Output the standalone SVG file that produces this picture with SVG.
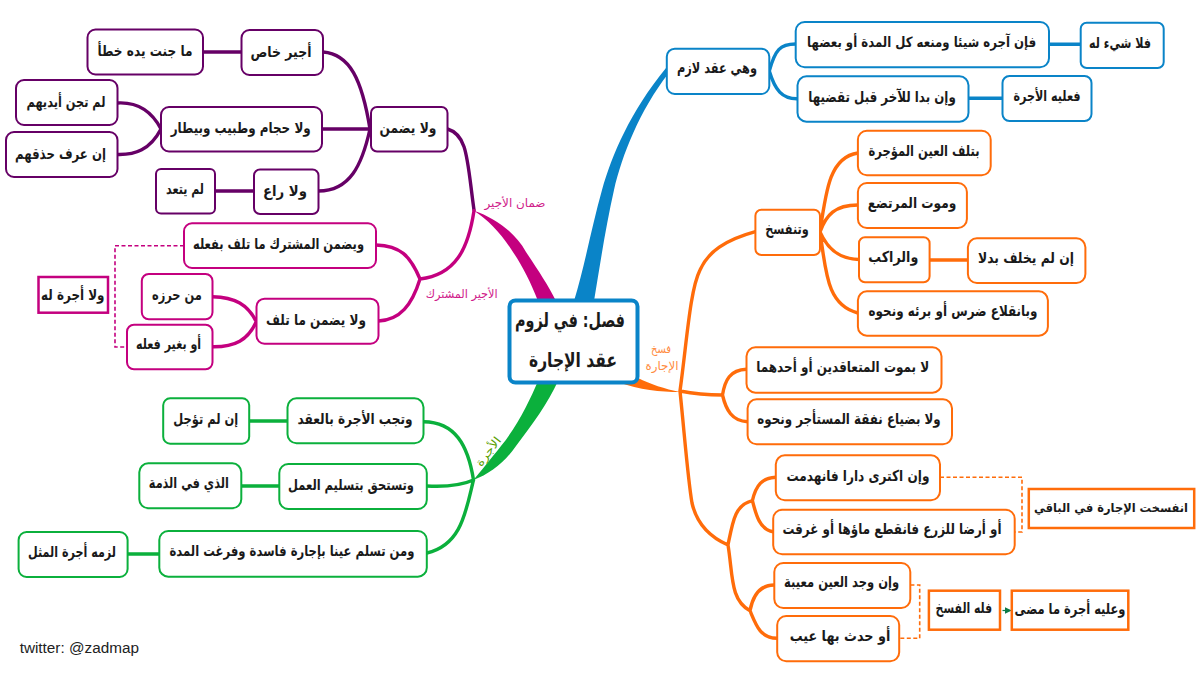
<svg xmlns="http://www.w3.org/2000/svg" width="1200" height="677" viewBox="0 0 1200 677">
<style>
text{font-family:"DejaVu Sans","Noto Sans",sans-serif;fill:#1a1a1a;text-anchor:middle;direction:rtl}
.n rect{fill:#fff;stroke-width:2}
.n text{font-size:15px;font-weight:bold}
.s rect{stroke-width:2.5}
.purple rect{stroke:#660066}.crimson rect{stroke:#c4007f}.green rect{stroke:#0bb03c}.blue rect{stroke:#0a84c8}.orange rect{stroke:#ff6c0a}
.l{fill:none;stroke-width:3.4;stroke-linecap:round}
.d{fill:none;stroke-width:1.6;stroke-dasharray:4 2.5}
.lp{stroke:#660066}.lc{stroke:#c4007f}.lg{stroke:#0bb03c}.lb{stroke:#0a84c8}.lo{stroke:#ff6c0a}
.lab{font-size:11.5px}
</style>
<defs><marker id="ah" markerWidth="6" markerHeight="6" refX="5" refY="3" orient="auto"><path d="M0,0L6,3L0,6Z" fill="#0c7a46"/></marker></defs>
<g id="connectors">
<path fill="#c4007f" d="M474,210.7C495,218 515,232 526,252C538,270 548,285 556,301L538,301C530,280 520,262 511,249C500,232 488,220 474,210.7Z"/>
<path fill="#0a84c8" d="M574,301C585,265 592,225 602,190C612,155 630,112 666,68L668,74C640,110 622,155 614,190C606,225 600,265 594,301Z"/>
<path fill="#0bb03c" d="M538,381C530,400 518,425 501,446C490,460 480,472 473.5,480C490,474 505,462 516,446C532,425 548,403 558,381Z"/>
<path fill="#ff6c0a" d="M618,382C640,390 660,392 680,392C665,389 650,384 638,378Z"/>
<path class="l lp" d="M447.5,129C468,135 467,160 474,210"/>
<path class="l lp" d="M323,52C350,54 362,80 370,129M322,129H371M318.5,191C350,191 362,165 370,129M203,52H241.5M215,191H254M117.5,103C135,102 150,108 161,129M117.5,154.5C135,155 150,150 161,129"/>
<path class="l lc" d="M474,210.7C468,250 455,275 420,279M420,279C410,255 400,246 376,245M420,279C412,305 400,320 378.4,321M212.5,296.7C235,297 248,305 256.3,321.7M212.5,346.7C235,347 248,340 256.3,321.7"/>
<path class="d lc" d="M184,245.7H115V347H127"/>
<path class="l lg" d="M473.5,480C468,445 455,422 423.6,421.7M426.8,486C445,487 460,486 473.5,480M426.8,553C462,545 466,510 473.5,480M249.3,421H287.5M241.4,486H279.3M127.5,554H159.3"/>
<path class="l lb" d="M769.3,71C775,50 780,44 795.7,44M769.3,71C775,90 782,99 797.5,98.7M1049,44.3H1080.7M968.6,98.3H1002.5"/>
<path class="l lo" d="M680,391C687,340 690,290 700,270C708,252 725,240 755.4,231.7M680,391C685,440 688,480 692,503C697,525 712,538 728,545M680,391C695,394 710,395 722.5,395M722.5,395C725,380 730,370 746.5,369.3M722.5,395C726,410 732,421 747.6,421.7M728,545C733,520 735,505 752.4,500.7M752.4,500.7C756,485 762,478 775.8,477.3M752.4,500.7C756,515 760,530 773.2,531.7M728,545C733,575 730,600 750,610.7M750,610.7C753,595 760,585 774.3,585M750,610.7C756,625 760,638 777.2,638.3M820,232C826,190 830,157 857.9,153M820,232C826,215 835,205 857.9,205M820,232C828,250 840,259 859,259.5M820,232C826,270 826,305 857.9,313M929.6,260H967.9"/>
<path class="d lo" d="M940,477.3H1022V532H1014.7M910.4,585H919.7V638.3H899.3"/>
<path d="M1002.5,610.5H1010.5" stroke="#0c7a46" stroke-width="1.2" fill="none" marker-end="url(#ah)"/>
</g>
<g id="center" class="n blue"><rect x="509.5" y="300.5" width="128" height="82" rx="6" style="stroke-width:4"/><text x="570" y="327" style="font-size:20px" textLength="110" lengthAdjust="spacingAndGlyphs">فصل: في لزوم</text><text x="573" y="367" style="font-size:20px" textLength="88" lengthAdjust="spacingAndGlyphs">عقد الإجارة</text></g>
<g id="n1" class="n purple"><rect x="87.5" y="29.5" width="115.5" height="45" rx="8"/><text x="145" y="56" textLength="95" lengthAdjust="spacingAndGlyphs">ما جنت يده خطأ</text></g>
<g id="n2" class="n purple"><rect x="241.5" y="30" width="81.5" height="45" rx="8"/><text x="281" y="57" textLength="61" lengthAdjust="spacingAndGlyphs">أجير خاص</text></g>
<g id="n3" class="n purple"><rect x="16" y="80" width="101.5" height="45" rx="8"/><text x="66" y="107" textLength="79" lengthAdjust="spacingAndGlyphs">لم تجن أيديهم</text></g>
<g id="n4" class="n purple"><rect x="6" y="132" width="111.5" height="45" rx="8"/><text x="60.5" y="159" textLength="91" lengthAdjust="spacingAndGlyphs">إن عرف حذقهم</text></g>
<g id="n5" class="n purple"><rect x="161" y="107" width="161" height="44.5" rx="8"/><text x="240.7" y="133" textLength="140" lengthAdjust="spacingAndGlyphs">ولا حجام وطبيب وبيطار</text></g>
<g id="n6" class="n purple"><rect x="371" y="107" width="76.5" height="44.5" rx="6"/><text x="408" y="133" textLength="57" lengthAdjust="spacingAndGlyphs">ولا يضمن</text></g>
<g id="n7" class="n purple"><rect x="156" y="169" width="59" height="44.5" rx="5"/><text x="185" y="194" textLength="38" lengthAdjust="spacingAndGlyphs">لم يتعد</text></g>
<g id="n8" class="n purple"><rect x="254" y="169.5" width="64.5" height="44.5" rx="6"/><text x="285" y="196" textLength="44" lengthAdjust="spacingAndGlyphs">ولا راع</text></g>
<g id="n9" class="n crimson"><rect x="184" y="223.3" width="192" height="44.7" rx="8"/><text x="278.5" y="249" textLength="171" lengthAdjust="spacingAndGlyphs">ويضمن المشترك ما تلف بفعله</text></g>
<g id="n10" class="n crimson s"><rect x="38.5" y="277" width="69.5" height="35.7"/><text x="72.8" y="300" textLength="63.5" lengthAdjust="spacingAndGlyphs">ولا أجرة له</text></g>
<g id="n11" class="n crimson"><rect x="141.8" y="274" width="70.7" height="45.3" rx="7"/><text x="176.9" y="300" textLength="50" lengthAdjust="spacingAndGlyphs">من حرزه</text></g>
<g id="n12" class="n crimson"><rect x="127" y="324.7" width="85.5" height="44.6" rx="7"/><text x="168.6" y="349" textLength="65" lengthAdjust="spacingAndGlyphs">أو بغير فعله</text></g>
<g id="n13" class="n crimson"><rect x="256.5" y="298.7" width="122" height="45" rx="8"/><text x="316" y="325" textLength="100" lengthAdjust="spacingAndGlyphs">ولا يضمن ما تلف</text></g>
<g id="n14" class="n green"><rect x="163.2" y="398.3" width="86" height="45.4" rx="7"/><text x="205.8" y="424" textLength="65" lengthAdjust="spacingAndGlyphs">إن لم تؤجل</text></g>
<g id="n15" class="n green"><rect x="287.5" y="398.3" width="136" height="45" rx="9"/><text x="355" y="424" textLength="115" lengthAdjust="spacingAndGlyphs">وتجب الأجرة بالعقد</text></g>
<g id="n16" class="n green"><rect x="139.3" y="463.3" width="102" height="45" rx="9"/><text x="188.8" y="488" textLength="80" lengthAdjust="spacingAndGlyphs">الذي في الذمة</text></g>
<g id="n17" class="n green"><rect x="279.3" y="464" width="147.5" height="45" rx="9"/><text x="351" y="490" textLength="126" lengthAdjust="spacingAndGlyphs">وتستحق بتسليم العمل</text></g>
<g id="n18" class="n green"><rect x="18.6" y="532" width="109" height="45" rx="8"/><text x="72" y="557" textLength="88" lengthAdjust="spacingAndGlyphs">لزمه أجرة المثل</text></g>
<g id="n19" class="n green"><rect x="159.3" y="531" width="267.5" height="45.7" rx="9"/><text x="292" y="556" textLength="245" lengthAdjust="spacingAndGlyphs">ومن تسلم عينا بإجارة فاسدة وفرغت المدة</text></g>
<g id="n20" class="n blue"><rect x="666.8" y="48.7" width="102.5" height="45.3" rx="8"/><text x="717" y="73" textLength="80" lengthAdjust="spacingAndGlyphs">وهي عقد لازم</text></g>
<g id="n21" class="n blue"><rect x="795.7" y="22" width="253.3" height="45.3" rx="9"/><text x="921.6" y="47" style="font-size:14px" textLength="229" lengthAdjust="spacingAndGlyphs">فإن آجره شيئا ومنعه كل المدة أو بعضها</text></g>
<g id="n22" class="n blue"><rect x="1080.7" y="22.7" width="83" height="45.3" rx="6"/><text x="1120" y="48" textLength="62" lengthAdjust="spacingAndGlyphs">فلا شيء له</text></g>
<g id="n23" class="n blue"><rect x="797.5" y="76.3" width="171" height="45.4" rx="9"/><text x="882" y="102" textLength="147.5" lengthAdjust="spacingAndGlyphs">وإن بدا للآخر قبل تقضيها</text></g>
<g id="n24" class="n blue"><rect x="1002.5" y="76" width="89" height="45" rx="7"/><text x="1047" y="101" textLength="67" lengthAdjust="spacingAndGlyphs">فعليه الأجرة</text></g>
<g id="n25" class="n orange"><rect x="755.4" y="209.7" width="64.6" height="45.3" rx="6"/><text x="787" y="234" textLength="43.6" lengthAdjust="spacingAndGlyphs">وتنفسخ</text></g>
<g id="n26" class="n orange"><rect x="857.9" y="130.7" width="132.8" height="44.6" rx="9"/><text x="924" y="156" textLength="111" lengthAdjust="spacingAndGlyphs">بتلف العين المؤجرة</text></g>
<g id="n27" class="n orange"><rect x="857.9" y="183" width="109" height="45" rx="9"/><text x="912" y="208" textLength="88.6" lengthAdjust="spacingAndGlyphs">وموت المرتضع</text></g>
<g id="n28" class="n orange"><rect x="859" y="237.3" width="70.6" height="45" rx="6"/><text x="893.3" y="262" textLength="50" lengthAdjust="spacingAndGlyphs">والراكب</text></g>
<g id="n29" class="n orange"><rect x="967.9" y="238.3" width="117.5" height="44.7" rx="9"/><text x="1026" y="263" textLength="96" lengthAdjust="spacingAndGlyphs">إن لم يخلف بدلا</text></g>
<g id="n30" class="n orange"><rect x="857.9" y="291.3" width="190" height="44.4" rx="9"/><text x="953" y="316" textLength="169" lengthAdjust="spacingAndGlyphs">وبانقلاع ضرس أو برئه ونحوه</text></g>
<g id="n31" class="n orange"><rect x="746.5" y="347.3" width="195" height="45.4" rx="9"/><text x="842.7" y="372" textLength="173" lengthAdjust="spacingAndGlyphs">لا بموت المتعاقدين أو أحدهما</text></g>
<g id="n32" class="n orange"><rect x="747.6" y="399.3" width="204.4" height="45" rx="9"/><text x="849" y="424" textLength="183.5" lengthAdjust="spacingAndGlyphs">ولا بضياع نفقة المستأجر ونحوه</text></g>
<g id="n33" class="n orange"><rect x="775.8" y="455.3" width="164.2" height="45" rx="9"/><text x="857.9" y="481" textLength="143" lengthAdjust="spacingAndGlyphs">وإن اكترى دارا فانهدمت</text></g>
<g id="n34" class="n orange"><rect x="773.2" y="509.7" width="241.5" height="44.6" rx="9"/><text x="892" y="534" textLength="219" lengthAdjust="spacingAndGlyphs">أو أرضا للزرع فانقطع ماؤها أو غرقت</text></g>
<g id="n35" class="n orange"><rect x="774.3" y="563" width="136" height="45" rx="9"/><text x="841.6" y="587" textLength="115" lengthAdjust="spacingAndGlyphs">وإن وجد العين معيبة</text></g>
<g id="n36" class="n orange"><rect x="777.2" y="616" width="122" height="45.3" rx="9"/><text x="840" y="641" textLength="100.6" lengthAdjust="spacingAndGlyphs">أو حدث بها عيب</text></g>
<g id="n37" class="n orange s"><rect x="1028.8" y="489" width="165.4" height="39"/><text x="1111" y="512" style="font-size:12px" textLength="154" lengthAdjust="spacingAndGlyphs">انفسخت الإجارة في الباقي</text></g>
<g id="n38" class="n orange s"><rect x="928.9" y="590.7" width="71.1" height="39"/><text x="963.9" y="613" textLength="56.6" lengthAdjust="spacingAndGlyphs">فله الفسخ</text></g>
<g id="n39" class="n orange s"><rect x="1011.8" y="590.7" width="116.5" height="39"/><text x="1070" y="614" textLength="111" lengthAdjust="spacingAndGlyphs">وعليه أجرة ما مضى</text></g>
<g id="labels">
<text class="lab" x="515" y="207" style="fill:#d01c8b" textLength="61" lengthAdjust="spacingAndGlyphs">ضمان الأجير</text>
<text class="lab" x="461.7" y="298" style="fill:#d01c8b" textLength="72" lengthAdjust="spacingAndGlyphs">الأجير المشترك</text>
<text class="lab" x="661" y="353" style="fill:#ff8c42" textLength="20" lengthAdjust="spacingAndGlyphs">فسخ</text>
<text class="lab" x="662" y="370" style="fill:#ff8c42" textLength="33" lengthAdjust="spacingAndGlyphs">الإجارة</text>
<text class="lab" transform="translate(489,452) rotate(-52)" x="0" y="3" style="fill:#5aa000" textLength="34" lengthAdjust="spacingAndGlyphs">الأجرة</text>
<text x="79.3" y="653" style="font-family:'Liberation Sans',sans-serif;font-size:15.3px;direction:ltr;fill:#222">twitter: @zadmap</text>
</g>
</svg>
